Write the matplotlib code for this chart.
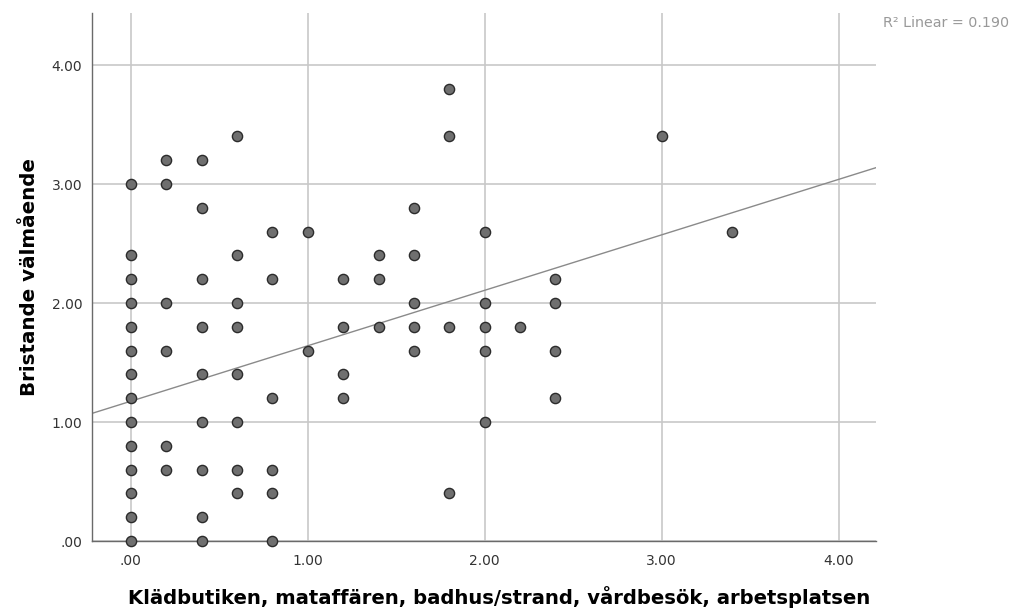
import numpy as np
import matplotlib
matplotlib.use("Agg")
import matplotlib.pyplot as plt

# points (x in steps of .2, y in steps of .2)
x_vals = [0.0]*14 + [0.2]*6 + [0.4]*9 + [0.6]*8 + [0.8]*6 + [1.0]*2 + [1.2]*4 \
    + [1.4]*3 + [1.6]*5 + [1.8]*4 + [2.0]*5 + [2.2] + [2.4]*4 + [3.0] + [3.4]
y_vals = [3.0, 2.4, 2.2, 2.0, 1.8, 1.6, 1.4, 1.2, 1.0, 0.8, 0.6, 0.4, 0.2, 0.0,
          3.2, 3.0, 2.0, 1.6, 0.8, 0.6,
          3.2, 2.8, 2.2, 1.8, 1.4, 1.0, 0.6, 0.2, 0.0,
          3.4, 2.4, 2.0, 1.8, 1.4, 1.0, 0.6, 0.4,
          2.6, 2.2, 1.2, 0.6, 0.4, 0.0,
          2.6, 1.6,
          2.2, 1.8, 1.4, 1.2,
          2.4, 2.2, 1.8,
          2.8, 2.4, 2.0, 1.8, 1.6,
          3.8, 3.4, 1.8, 0.4,
          2.6, 2.0, 1.8, 1.6, 1.0,
          1.8,
          2.2, 2.0, 1.6, 1.2,
          3.4,
          2.6]

# fit line as drawn in the chart
intercept = 1.175
slope = 0.466
r2_text = "R² Linear = 0.190"

x_ticks = [0, 1, 2, 3, 4]
x_ticklabels = [".00", "1.00", "2.00", "3.00", "4.00"]
y_ticks = [0, 1, 2, 3, 4]
y_ticklabels = [".00", "1.00", "2.00", "3.00", "4.00"]

xlabel = "Klädbutiken, mataffären, badhus/strand, vårdbesök, arbetsplatsen"
ylabel = "Bristande välmående"

fig = plt.figure(figsize=(10.16, 6.10), dpi=100)
ax = fig.add_axes([0.0906, 0.113, 0.7714, 0.8657])

xmin, xmax = -0.219, 4.21
ax.set_xlim(xmin, xmax)
ax.set_ylim(0, 4.437)

ax.grid(True, color="#c8c8c8", linewidth=1.2)
ax.set_axisbelow(True)

ax.scatter(x_vals, y_vals, s=54, facecolor="#6f6f6f", edgecolor="#2b2b2b",
           linewidth=1.0, zorder=3, clip_on=False)

lx = np.array([xmin, xmax])
ax.plot(lx, intercept + slope * lx, color="#8a8a8a", linewidth=1.0, zorder=2)

for s in ["top", "right"]:
    ax.spines[s].set_visible(False)
for s in ["left", "bottom"]:
    ax.spines[s].set_color("#6a6a6a")
    ax.spines[s].set_linewidth(1.0)

ax.set_xticks(x_ticks)
ax.set_xticklabels(x_ticklabels)
ax.set_yticks(y_ticks)
ax.set_yticklabels(y_ticklabels)
ax.tick_params(length=0, labelsize=10, labelcolor="#333333", pad=7)
ax.tick_params(axis="x", pad=9)

ax.set_xlabel(xlabel, fontsize=14.1, fontweight="bold", labelpad=11)
ax.xaxis.set_label_coords(0.52, -0.085)
ax.set_ylabel(ylabel, fontsize=14.3, fontweight="bold", labelpad=9)

fig.text(0.8695, 0.962, r2_text, fontsize=10.3, color="#999999", va="center")

fig.savefig("out.png", dpi=100)
